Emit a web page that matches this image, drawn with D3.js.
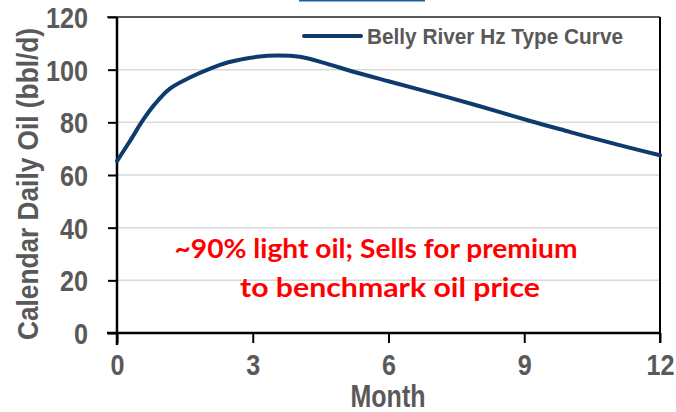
<!DOCTYPE html>
<html><head><meta charset="utf-8">
<script src="https://cdn.jsdelivr.net/npm/d3@7"></script>
<style>
html,body{margin:0;padding:0;background:#fff;}
svg{display:block;}
</style></head>
<body>
<script>
const months = [0, 0.29, 0.58, 0.84, 1.17, 1.61, 2.06, 2.46, 2.72, 3.1, 3.53, 4.04, 4.63, 5.15, 6, 7, 8, 9.13, 10, 10.6, 11.3, 12];
const oil =    [65.3, 73, 81, 87, 92.8, 97, 100.4, 102.8, 103.8, 104.9, 105.4, 104.9, 102.3, 99.6, 95.6, 91, 86.2, 80.5, 76.4, 73.6, 70.5, 67.5];
const xTicks = [0, 3, 6, 9, 12];
const yTicks = [0, 20, 40, 60, 80, 100, 120];
const seriesName = "Belly River Hz Type Curve";
const yTitle = "Calendar Daily Oil (bbl/d)";
const xTitle = "Month";
const noteLines = ["~90% light oil; Sells for premium", "to benchmark oil price"];

const W = 676, H = 412;
const m = {l:117, r:16, t:17, b:79};
const narrow = "'Liberation Sans Narrow','Arial Narrow','Liberation Sans',Arial,sans-serif";
const gray = "#595959";
const navy = "#0d3b6e";

const svg = d3.select("body").append("svg").attr("width", W).attr("height", H);
const x = d3.scaleLinear().domain([0, 12]).range([m.l, W - m.r]);
const y = d3.scaleLinear().domain([0, 120]).range([H - m.b, m.t]);

// cut-off hyperlink underline at top
svg.append("line").attr("x1", 299).attr("x2", 425).attr("y1", 0.5).attr("y2", 0.5)
  .attr("stroke", "#1f5f9e").attr("stroke-width", 2);

// gridlines
svg.append("g").selectAll("line").data(yTicks.filter(d => d > 0 && d < 120)).join("line")
  .attr("x1", x(0)).attr("x2", x(12)).attr("y1", d => y(d)).attr("y2", d => y(d))
  .attr("stroke", "#d9d9d9").attr("stroke-width", 1.5);

// top and right borders
svg.append("line").attr("x1", x(0) - 10).attr("x2", x(12)).attr("y1", y(120)).attr("y2", y(120))
  .attr("stroke", "#222").attr("stroke-width", 1.5);
svg.append("line").attr("x1", x(12)).attr("x2", x(12)).attr("y1", y(120)).attr("y2", y(0) + 10)
  .attr("stroke", "#000").attr("stroke-width", 2);

// y axis
const yAxis = svg.append("g").attr("transform", `translate(${x(0)},0)`)
  .call(d3.axisLeft(y).tickValues(yTicks).tickSize(9).tickPadding(20));
yAxis.select(".domain").attr("stroke", "#000").attr("stroke-width", 2.5)
  .attr("d", `M0,${y(120)}V${y(0) + 12}`);
yAxis.selectAll(".tick line").attr("stroke", "#000").attr("stroke-width", 2);
yAxis.selectAll(".tick text").attr("fill", gray).attr("font-family", narrow)
  .attr("font-weight", "bold").attr("font-size", 29).attr("dy", "0.36em")
  .attr("textLength", d => String(d).length * 14).attr("lengthAdjust", "spacingAndGlyphs");

// x axis
const xAxis = svg.append("g").attr("transform", `translate(0,${y(0)})`)
  .call(d3.axisBottom(x).tickValues(xTicks).tickSize(10).tickPadding(11));
xAxis.select(".domain").attr("stroke", "#000").attr("stroke-width", 2.5)
  .attr("d", `M${x(0) - 10},0H${x(12)}`);
xAxis.selectAll(".tick line").attr("stroke", "#000").attr("stroke-width", 2);
xAxis.selectAll(".tick text").attr("fill", gray).attr("font-family", narrow)
  .attr("font-weight", "bold").attr("font-size", 29).attr("dy", "0.71em")
  .attr("textLength", d => String(d).length * 14).attr("lengthAdjust", "spacingAndGlyphs");

// line
const line = d3.line().x((d, i) => x(months[i])).y(d => y(d)).curve(d3.curveCatmullRom.alpha(0.5));
svg.append("path").datum(oil).attr("d", line).attr("fill", "none")
  .attr("stroke", navy).attr("stroke-width", 4).attr("stroke-linecap", "round");

// legend
svg.append("line").attr("x1", 304).attr("x2", 361).attr("y1", 36).attr("y2", 36)
  .attr("stroke", navy).attr("stroke-width", 4).attr("stroke-linecap", "round");
svg.append("text").attr("x", 367).attr("y", 44).text(seriesName)
  .attr("fill", gray).attr("font-family", narrow).attr("font-weight", "bold")
  .attr("font-size", 22).attr("textLength", 256).attr("lengthAdjust", "spacingAndGlyphs");

// axis titles
svg.append("text").attr("transform", `translate(38,184) rotate(-90)`).attr("text-anchor", "middle")
  .text(yTitle).attr("fill", gray).attr("font-family", narrow).attr("font-weight", "bold")
  .attr("font-size", 29).attr("textLength", 312).attr("lengthAdjust", "spacingAndGlyphs");
svg.append("text").attr("x", 388).attr("y", 407).attr("text-anchor", "middle")
  .text(xTitle).attr("fill", gray).attr("font-family", narrow).attr("font-weight", "bold")
  .attr("font-size", 31).attr("textLength", 75).attr("lengthAdjust", "spacingAndGlyphs");

// annotation
const noteX = [376, 390], noteY = [258, 297], noteW = [403, 300];
noteLines.forEach((t, i) => {
  svg.append("text").attr("x", noteX[i]).attr("y", noteY[i]).attr("text-anchor", "middle")
    .text(t).attr("fill", "#ff0000").attr("font-family", "Lato,'Open Sans',sans-serif")
    .attr("font-weight", "bold").attr("font-size", 27)
    .attr("textLength", noteW[i]).attr("lengthAdjust", "spacingAndGlyphs");
});
</script>
</body></html>
